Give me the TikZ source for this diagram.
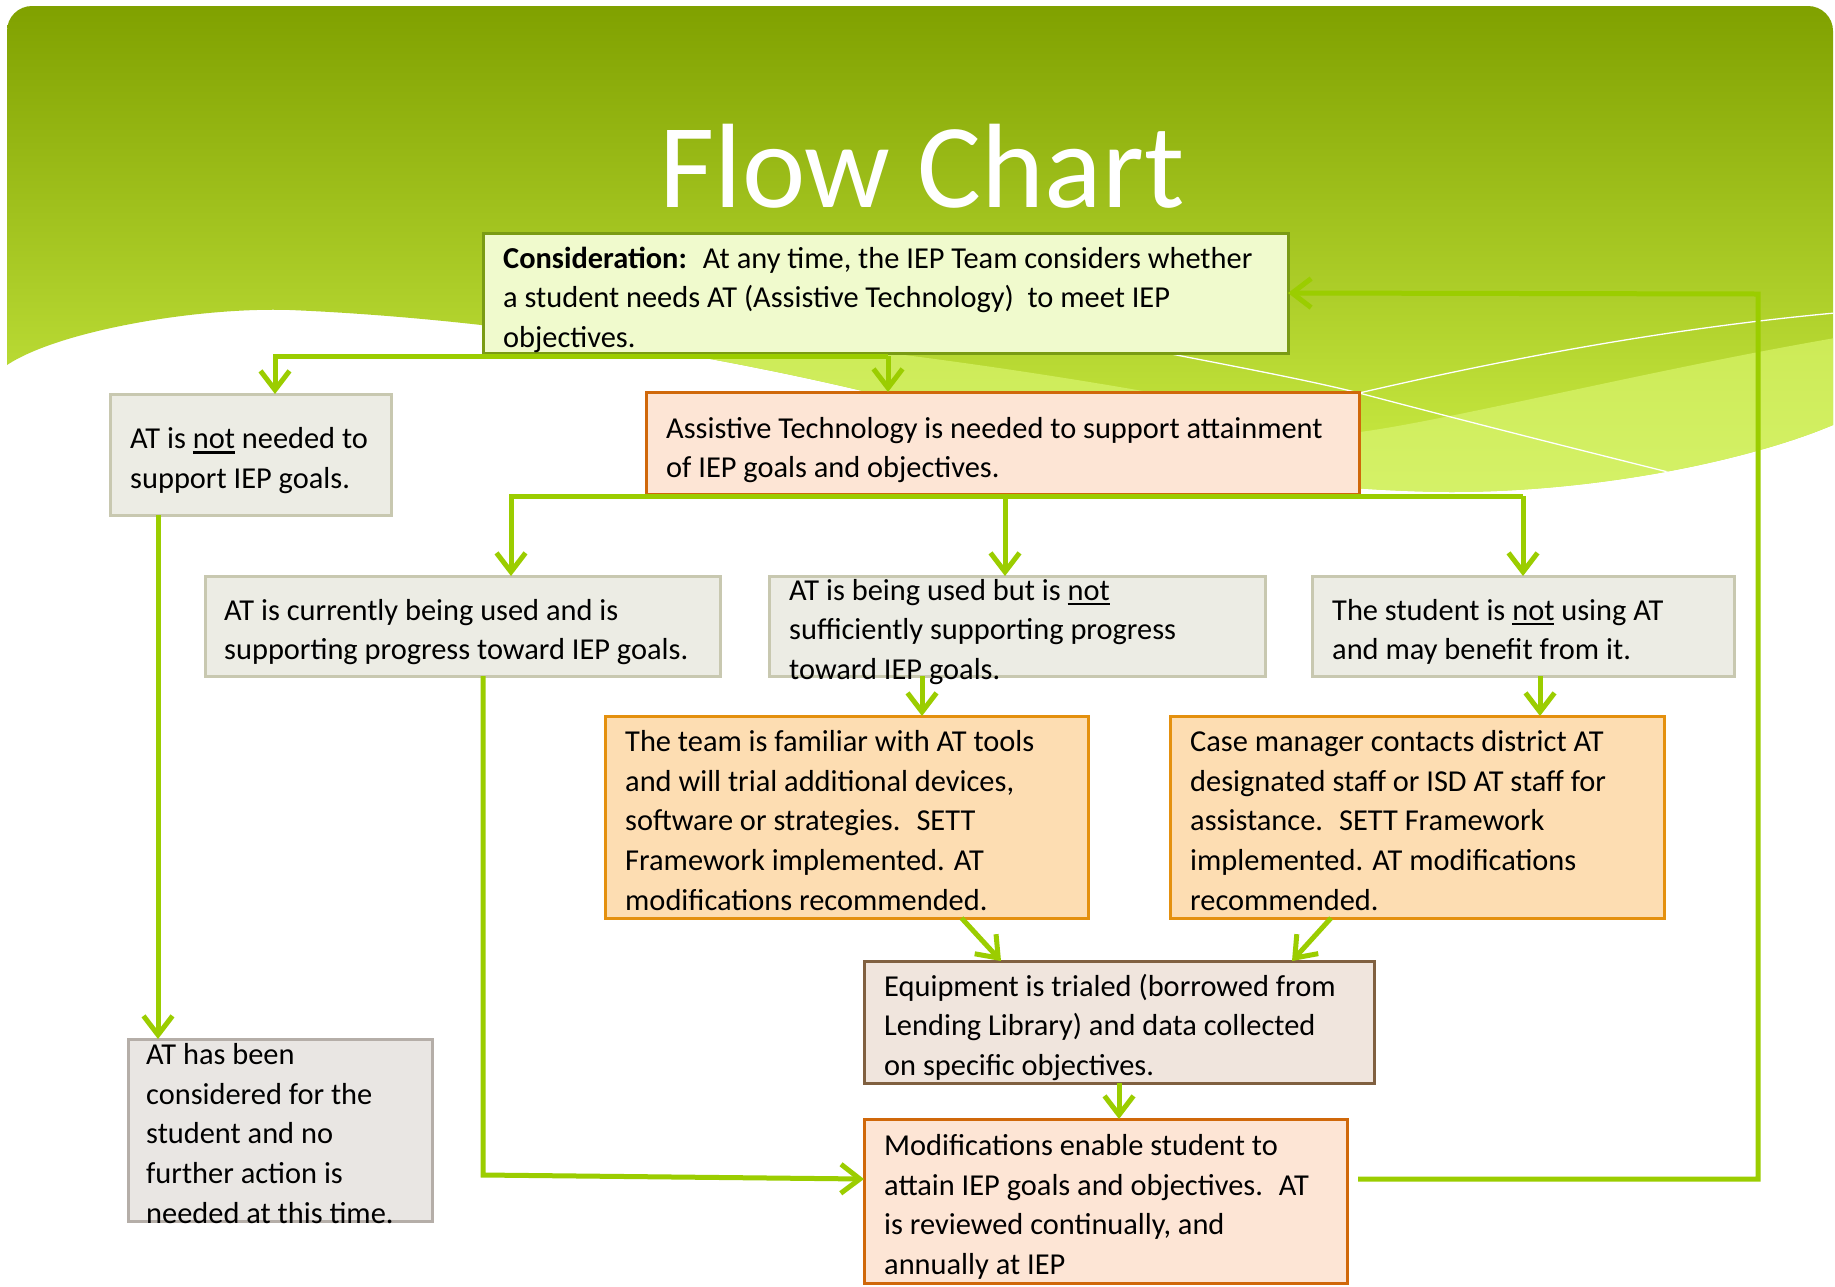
\documentclass[tikz,border=0pt]{standalone}
\usepackage{fontspec}
\setmainfont{Carlito}
\usetikzlibrary{arrows.meta,calc}
\definecolor{conn}{RGB}{155,205,0}
\definecolor{gTop}{RGB}{128,161,0}
\definecolor{gBot}{RGB}{205,238,70}
\definecolor{bandTop}{RGB}{204,234,85}
\definecolor{bandBot}{RGB}{218,246,115}
\definecolor{consF}{RGB}{240,250,205}
\definecolor{consB}{RGB}{122,155,20}
\definecolor{grayF}{RGB}{236,236,228}
\definecolor{grayB}{RGB}{200,200,176}
\definecolor{peachF}{RGB}{253,229,213}
\definecolor{peachB}{RGB}{208,104,10}
\definecolor{orF}{RGB}{253,221,178}
\definecolor{orB}{RGB}{228,144,14}
\definecolor{eqF}{RGB}{240,229,221}
\definecolor{eqB}{RGB}{128,96,64}
\definecolor{hbF}{RGB}{233,230,227}
\definecolor{hbB}{RGB}{181,174,168}
\newsavebox\myulbox
\newcommand{\undl}[1]{\sbox\myulbox{#1}\rlap{\rule[-5pt]{\wd\myulbox}{2.2pt}}\usebox\myulbox}
\newcommand{\bbox}[6]{\node[#1, minimum width={#5-#3}, minimum height={#6-#4}] (#2) at (#3,#4) {};}
\tikzset{
  bx/.style={draw, line width=3pt, anchor=north west, inner sep=0pt, outer sep=0pt},
  consbox/.style={bx, draw=consB, fill=consF},
  graybox/.style={bx, draw=grayB, fill=grayF},
  peachbox/.style={bx, draw=peachB, fill=peachF},
  orbox/.style={bx, draw=orB, fill=orF},
  eqbox/.style={bx, draw=eqB, fill=eqF},
  hbbox/.style={bx, draw=hbB, fill=hbF},
  txt/.style={anchor=west, align=left, inner sep=0pt, text=black,
    font=\fontsize{30.4}{39.8}\selectfont},
  arr/.style={draw=conn, line width=5pt, -{Straight Barb[length=19pt,width=29pt]}},
  wline/.style={draw=white, line width=1.3pt},
}
\begin{document}
\begin{tikzpicture}[x=1pt,y=-1pt]
\useasboundingbox (0,0) rectangle (1835,1286);
\fill[white] (0,0) rectangle (1835,1286);
% green header
\begin{scope}
\clip[rounded corners=25pt] (7,365) -- (7,6) -- (1833,6) [sharp corners] -- (1833,425)
  .. controls (1750,460) and (1600,492) .. (1450,492)
  .. controls (1250,490) and (1100,450) .. (900,400)
  .. controls (700,350) and (480,318) .. (290,310)
  .. controls (200,307) and (60,330) .. (7,365) -- cycle;
\shade[top color=gTop, bottom color=gBot] (0,6) rectangle (1835,495);
\shade[top color=bandTop, bottom color=bandBot] (520,320)
  .. controls (900,340) and (1200,400) .. (1360,432)
  .. controls (1450,420) and (1650,370) .. (1835,338)
  -- (1835,600) -- (520,600) -- cycle;
\draw[wline] (1100,340) .. controls (1200,360) and (1300,378) .. (1359,393)
  .. controls (1480,425) and (1600,455) .. (1700,480);
\draw[wline] (1300,407) -- (1359,393) .. controls (1480,365) and (1650,330) .. (1835,313);
\end{scope}
\node[text=white, anchor=base, inner sep=0pt, font=\fontsize{120}{124}\selectfont] (title) at (922,207) {Flow Chart};
% helper coordinates
\coordinate (j1) at (888,356);
\coordinate (jl) at (275,356);
\coordinate (j2a) at (511,496);
\coordinate (j2b) at (1005,496);
\coordinate (j2c) at (1523,496);
\coordinate (xa) at (158,0);
\coordinate (k1) at (483,1175);
\coordinate (xb) at (922,0);
\coordinate (xc) at (1540,0);
\coordinate (lp) at (1758,294);
% boxes
\bbox{consbox}{cons}{483}{233}{1288}{353}
\bbox{graybox}{notneed}{110}{394}{391}{515}
\bbox{peachbox}{assist}{646}{392}{1359}{494}
\bbox{graybox}{curr}{205}{576}{720}{676}
\bbox{graybox}{notsuff}{769}{576}{1265}{676}
\bbox{graybox}{notusing}{1312}{576}{1734}{676}
\bbox{orbox}{team}{605}{716}{1088}{918}
\bbox{orbox}{casemgr}{1170}{716}{1664}{918}
\bbox{eqbox}{equip}{864}{961}{1374}{1083}
\bbox{peachbox}{modif}{864}{1119}{1347}{1283}
\bbox{hbbox}{hasbeen}{128}{1039}{432}{1221}
% connectors
\draw[arr] (j1) -- (jl) -- (jl |- notneed.north);
\draw[arr] (j1) -- (j1 |- assist.north);
\draw[arr] (j2c) -- (notusing.north);
\draw[arr] (j2c) -- (j2a) -- (j2a |- curr.north);
\draw[arr] (j2b) -- (j2b |- notsuff.north);
\draw[arr] (notneed.south -| xa) -- (hasbeen.north -| xa);
\draw[arr] (curr.south -| k1) -- (k1) -- ([yshift=22pt]modif.west);
\draw[arr] (notsuff.south -| xb) -- (team.north -| xb);
\draw[arr] (notusing.south -| xc) -- (casemgr.north -| xc);
\draw[arr] ([xshift=115pt]team.south) -- ([xshift=-118pt]equip.north);
\draw[arr] ([xshift=-86pt]casemgr.south) -- ([xshift=173pt]equip.north);
\draw[arr] (equip.south) -- (equip.south |- modif.north);
\draw[arr] ([xshift=11pt,yshift=22pt]modif.east) -| (lp) -- (cons.east);
% texts
\node[txt] (cons-t) at ([xshift=20pt,yshift=-7pt]cons.west) {\strut\textbf{Consideration:}~ At any time, the IEP Team considers whether\\ a student needs AT (Assistive Technology)~ to meet IEP\\ objectives.\strut};
\node[txt] (notneed-t) at ([xshift=20pt,yshift=-6pt]notneed.west) {\strut AT is \undl{not} needed to\\ support IEP goals.\strut};
\node[txt] (assist-t) at ([xshift=20pt,yshift=-7pt]assist.west) {\strut Assistive Technology is needed to support attainment\\ of IEP goals and objectives.\strut};
\node[txt] (curr-t) at ([xshift=19pt,yshift=-6pt]curr.west) {\strut AT is currently being used and is\\ supporting progress toward IEP goals.\strut};
\node[txt] (notsuff-t) at ([xshift=20pt,yshift=-6pt]notsuff.west) {\strut AT is being used but is \undl{not}\\ sufficiently supporting progress\\ toward IEP goals.\strut};
\node[txt] (notusing-t) at ([xshift=20pt,yshift=-6pt]notusing.west) {\strut The student is \undl{not} using AT\\ and may benefit from it.\strut};
\node[txt] (team-t) at ([xshift=20pt,yshift=-6pt]team.west) {\strut The team is familiar with AT tools\\ and will trial additional devices,\\ software or strategies.~ SETT\\ Framework implemented. AT\\ modifications recommended.\strut};
\node[txt] (casemgr-t) at ([xshift=20pt,yshift=-6pt]casemgr.west) {\strut Case manager contacts district AT\\ designated staff or ISD AT staff for\\ assistance.~ SETT Framework\\ implemented. AT modifications\\ recommended.\strut};
\node[txt] (equip-t) at ([xshift=20pt,yshift=-6pt]equip.west) {\strut Equipment is trialed (borrowed from\\ Lending Library) and data collected\\ on specific objectives.\strut};
\node[txt] (modif-t) at ([xshift=20pt,yshift=-6pt]modif.west) {\strut Modifications enable student to\\ attain IEP goals and objectives.~ AT\\ is reviewed continually, and\\ annually at IEP\strut};
\node[txt] (hasbeen-t) at ([xshift=18pt,yshift=-6pt]hasbeen.west) {\strut AT has been\\ considered for the\\ student and no\\ further action is\\ needed at this time.\strut};
\end{tikzpicture}
\end{document}
